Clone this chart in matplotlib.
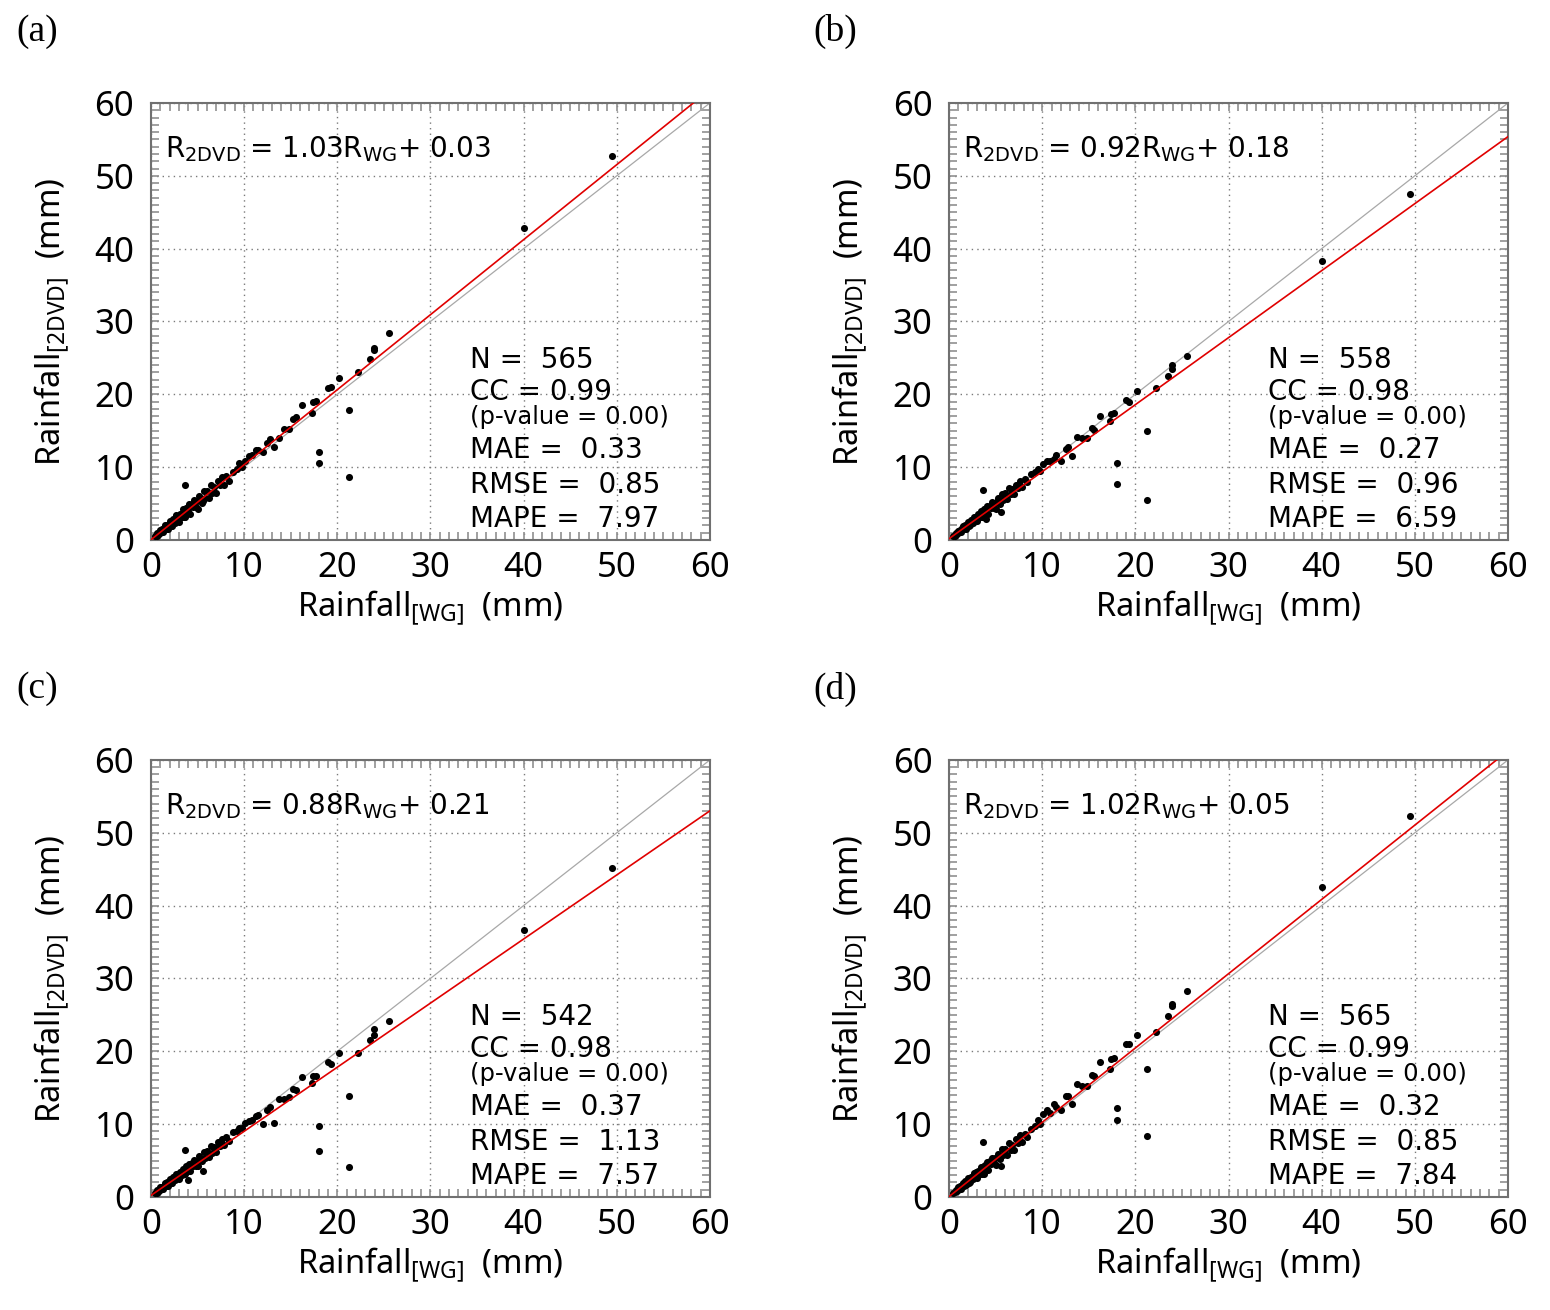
import numpy as np
import matplotlib.pyplot as plt

plt.rcParams['mathtext.fontset'] = 'custom'
plt.rcParams['mathtext.rm'] = 'Noto Sans'
plt.rcParams['mathtext.sf'] = 'DejaVu Sans'

# rain gauge (WG) amounts, shared by the four panels
wg = [0.4, 0.6, 0.7, 0.9, 1.0, 1.1, 1.2, 1.3, 1.4, 1.5,
      1.6, 1.7, 1.8, 1.9, 2.0, 2.1, 2.2, 2.3, 2.4, 2.5,
      2.6, 2.7, 2.8, 2.9, 3.0, 3.1, 3.2, 3.3, 3.4, 3.5,
      3.6, 3.7, 3.8, 3.9, 4.0, 4.1, 4.2, 4.4, 4.5, 4.6,
      4.8, 4.9, 5.0, 5.2, 5.3, 5.5, 5.7, 5.8, 6.0, 6.2,
      6.4, 6.6, 6.8, 7.0, 7.2, 7.4, 7.6, 7.8, 8.1, 8.4,
      8.8, 9.2, 9.5, 9.8, 10.1, 10.5, 10.8, 11.3, 11.5, 12.0,
      12.5, 12.8, 13.2, 13.7, 14.3, 14.8, 15.3, 15.6, 16.2, 17.3,
      17.4, 17.7, 19.0, 19.3, 20.2, 22.2, 23.5, 23.9, 23.9, 25.5,
      40.0, 49.5, 18.0, 18.0, 21.3, 21.3, 3.6, 5.6, 4.0]

# 2DVD amounts per panel
dvd_a = [0.5, 0.6, 1.0, 0.8, 1.4, 1.1, 1.5, 1.1, 1.6, 2.0,
         1.5, 2.1, 1.5, 2.2, 2.6, 1.9, 2.4, 1.9, 2.9, 2.8,
         2.3, 3.4, 2.7, 3.3, 2.5, 3.6, 3.4, 3.1, 4.2, 3.1,
         3.9, 3.1, 4.4, 4.4, 3.8, 4.9, 3.6, 5.0, 4.5, 5.5,
         4.5, 5.4, 4.3, 6.0, 5.7, 5.1, 6.7, 5.7, 6.7, 5.7,
         7.5, 6.4, 7.3, 6.4, 8.1, 7.5, 8.6, 7.6, 8.8, 8.1,
         9.3, 9.8, 10.6, 10.0, 10.8, 11.5, 11.6, 12.4, 12.3, 12.1,
         13.3, 13.8, 12.7, 14.0, 15.3, 15.3, 16.6, 16.9, 18.6, 17.5,
         19.0, 19.1, 20.9, 21.0, 22.2, 23.1, 24.9, 26.1, 26.4, 28.4,
         42.9, 52.7, 12.1, 10.6, 17.8, 8.6, 7.5, 5.3, 4.0]

dvd_b = [0.6, 0.6, 1.0, 0.8, 1.3, 1.1, 1.4, 1.1, 1.6, 1.9,
         1.5, 2.0, 1.5, 2.1, 2.5, 1.9, 2.3, 2.0, 2.8, 2.7,
         2.3, 3.2, 2.7, 3.2, 2.6, 3.5, 3.3, 3.1, 4.0, 3.1,
         3.8, 3.2, 4.2, 4.2, 3.7, 4.6, 3.6, 4.7, 4.4, 5.2,
         4.4, 5.1, 4.3, 5.7, 5.5, 5.0, 6.3, 5.5, 6.4, 5.6,
         7.1, 6.3, 7.0, 6.3, 7.6, 7.2, 8.1, 7.3, 8.4, 7.9,
         9.1, 9.4, 9.8, 9.5, 10.5, 10.9, 10.8, 11.1, 11.6, 10.9,
         12.5, 12.7, 11.5, 14.1, 14.0, 14.0, 15.4, 15.1, 17.0, 16.4,
         17.3, 17.4, 19.2, 19.0, 20.5, 20.9, 22.5, 23.5, 24.0, 25.3,
         38.3, 47.5, 10.6, 7.7, 15.0, 5.5, 6.8, 3.8, 2.9]

dvd_c = [0.6, 0.6, 0.9, 0.8, 1.3, 1.1, 1.4, 1.1, 1.5, 1.9,
         1.5, 2.0, 1.5, 2.1, 2.4, 1.9, 2.3, 1.9, 2.7, 2.7,
         2.3, 3.2, 2.6, 3.1, 2.5, 3.4, 3.3, 3.0, 3.9, 3.1,
         3.7, 3.1, 4.2, 4.1, 3.6, 4.5, 3.5, 4.6, 4.3, 5.1,
         4.3, 5.0, 4.2, 5.6, 5.4, 4.9, 6.2, 5.4, 6.3, 5.5,
         7.0, 6.1, 6.9, 6.2, 7.5, 7.0, 8.0, 7.2, 8.2, 7.7,
         8.9, 9.1, 9.5, 9.4, 10.1, 10.4, 10.6, 11.1, 11.3, 10.0,
         12.0, 12.3, 10.2, 13.4, 13.4, 13.7, 14.8, 14.7, 16.4, 15.7,
         16.6, 16.6, 18.5, 18.3, 19.7, 19.7, 21.5, 22.2, 23.1, 24.1,
         36.6, 45.2, 9.8, 6.3, 13.8, 4.1, 6.5, 3.5, 2.3]

dvd_d = [0.5, 0.7, 0.9, 0.8, 1.3, 1.2, 1.5, 1.1, 1.7, 1.9,
         1.5, 2.2, 1.6, 2.1, 2.6, 1.9, 2.5, 2.0, 2.8, 2.8,
         2.4, 3.3, 2.7, 3.4, 2.6, 3.5, 3.4, 3.2, 4.1, 3.2,
         3.9, 3.2, 4.3, 4.4, 3.8, 4.8, 3.7, 4.9, 4.5, 5.4,
         4.6, 5.3, 4.4, 5.9, 5.6, 5.2, 6.6, 5.7, 6.6, 5.8,
         7.4, 6.5, 7.2, 6.5, 8.0, 7.4, 8.5, 7.6, 8.7, 8.2,
         9.3, 9.7, 10.5, 10.0, 11.4, 11.9, 11.5, 12.8, 12.3, 11.9,
         13.9, 13.8, 12.7, 15.5, 15.3, 15.2, 16.7, 16.6, 18.5, 17.6,
         19.0, 19.1, 21.0, 21.0, 22.3, 22.7, 24.8, 26.2, 26.5, 28.3,
         42.6, 52.3, 12.2, 10.6, 17.6, 8.3, 7.5, 4.3, 4.1]

panel_names = ['(a)', '(b)', '(c)', '(d)']
slopes = [1.03, 0.92, 0.88, 1.02]
intercepts = [0.03, 0.18, 0.21, 0.05]
n_pts = [565, 558, 542, 565]
cc = [0.99, 0.98, 0.98, 0.99]
mae = [0.33, 0.27, 0.37, 0.32]
rmse = [0.85, 0.96, 1.13, 0.85]
mape = [7.97, 6.59, 7.57, 7.84]

dvd_all = [dvd_a, dvd_b, dvd_c, dvd_d]
lefts = [0.0974, 0.6123, 0.0974, 0.6123]
bottoms = [0.5878, 0.5878, 0.0863, 0.0863]
label_pos = [(0.024, 0.976), (0.539, 0.976), (0.024, 0.474), (0.539, 0.474)]

fig = plt.figure(figsize=(15.5, 13.1), dpi=100)
tick_font = 'Noto Sans'
text_font = 'DejaVu Sans'

for i in range(4):
    ax = fig.add_axes([lefts[i], bottoms[i], 0.3606, 0.3336])
    ax.set_xlim(0, 60)
    ax.set_ylim(0, 60)
    ax.set_xticks(np.arange(0, 61, 10))
    ax.set_yticks(np.arange(0, 61, 10))
    ax.set_xticks(np.arange(0, 61, 1), minor=True)
    ax.set_yticks(np.arange(0, 61, 1), minor=True)
    ax.grid(True, which='major', color='#7a7a7a', linestyle=(0, (1, 3)), linewidth=1.0)
    ax.tick_params(which='both', direction='in', top=True, right=True,
                   length=6, width=1.2, color='#909090')
    ax.tick_params(axis='x', pad=8)
    ax.tick_params(axis='y', pad=12)
    for lab in ax.get_xticklabels() + ax.get_yticklabels():
        lab.set_fontfamily(tick_font)
        lab.set_fontsize(25)
    for sp in ax.spines.values():
        sp.set_color('#707070')
        sp.set_linewidth(1.5)
    ax.set_axisbelow(True)

    xx = np.array([0, 60])
    ax.plot(xx, xx, color='#a8a8a8', linewidth=0.9, zorder=2)
    ax.plot(xx, slopes[i] * xx + intercepts[i], color='#e00000', linewidth=1.2, zorder=4)
    ax.scatter(wg, dvd_all[i], s=26, color='black', linewidths=0, zorder=3)

    ax.set_xlabel(r'Rainfall$_{\mathrm{[WG]}}$  (mm)', fontfamily=tick_font, fontsize=23.5, labelpad=2)
    ax.set_ylabel(r'Rainfall$_{\mathrm{[2DVD]}}$  (mm)', fontfamily=tick_font, fontsize=23.5, labelpad=16)

    ax.text(1.5, 53.6, r'R$_{\mathsf{2DVD}}$ = %.2fR$_{\mathsf{WG}}$+ %.2f' % (slopes[i], intercepts[i]),
            fontfamily=text_font, fontsize=20, ha='left', va='center')
    ax.text(34.2, 24.7, 'N =  %d' % n_pts[i], fontfamily=text_font, fontsize=20, va='center')
    ax.text(34.2, 20.3, 'CC = %.2f' % cc[i], fontfamily=text_font, fontsize=20, va='center')
    ax.text(34.2, 16.9, '(p-value = 0.00)', fontfamily=text_font, fontsize=17.5, va='center')
    ax.text(34.2, 12.4, 'MAE =  %.2f' % mae[i], fontfamily=text_font, fontsize=20, va='center')
    ax.text(34.2, 7.6, 'RMSE =  %.2f' % rmse[i], fontfamily=text_font, fontsize=20, va='center')
    ax.text(34.2, 2.9, 'MAPE =  %.2f' % mape[i], fontfamily=text_font, fontsize=20, va='center')

    fig.text(label_pos[i][0], label_pos[i][1], panel_names[i], fontfamily='Liberation Serif',
             fontsize=27, ha='center', va='center')

fig.savefig('out.png', dpi=100, facecolor='white')
